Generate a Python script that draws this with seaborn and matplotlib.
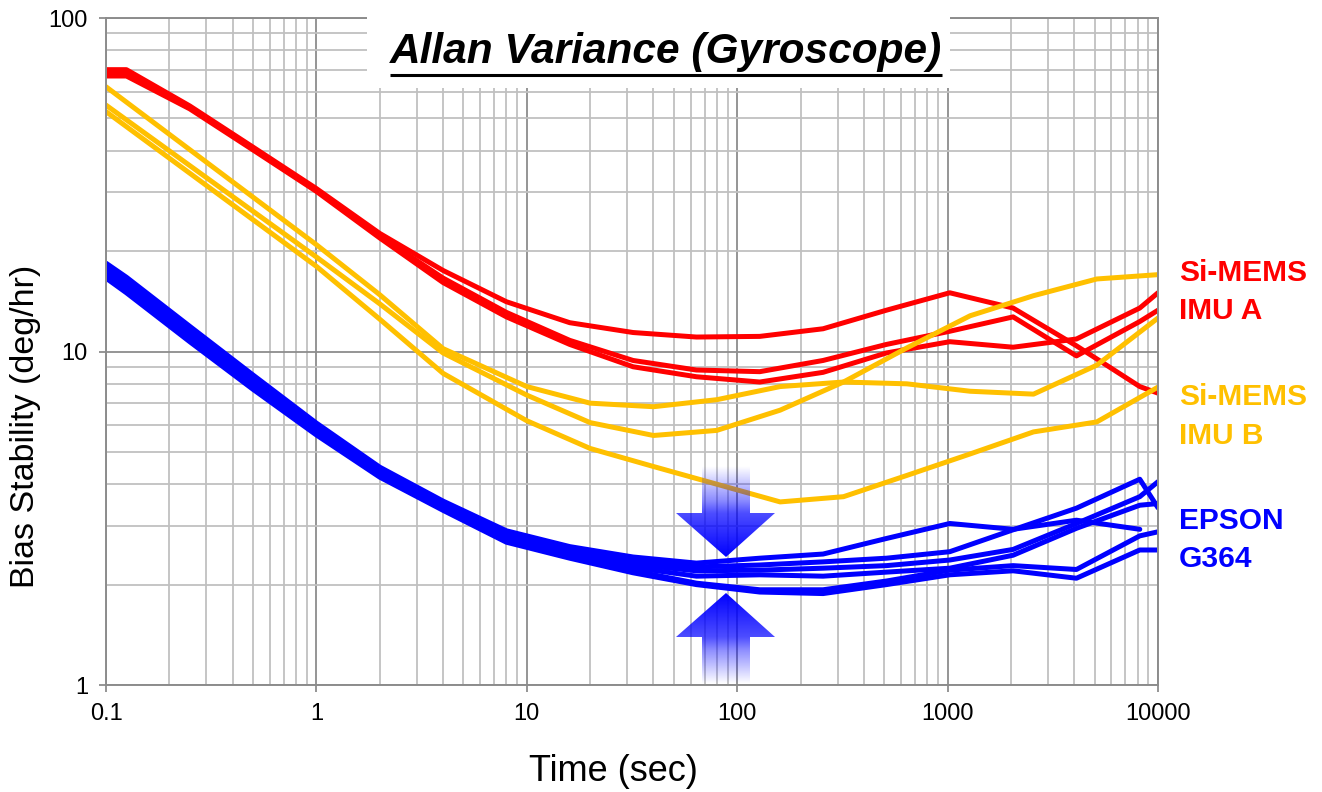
import numpy as np
import pandas as pd
import matplotlib
matplotlib.use("Agg")
import matplotlib.pyplot as plt
from matplotlib.patches import Rectangle, Polygon
from matplotlib.ticker import FixedLocator, FixedFormatter, LogLocator, NullFormatter
import seaborn as sns

# averaging times (sec)
tau = [0.1, 0.125, 0.25, 0.5, 1, 2, 4, 8, 16, 32, 64, 128, 256, 512, 1024, 2048, 4096, 8192, 10000]
tau_b = [0.1, 1, 2, 4, 10, 20, 40, 80, 160, 320, 640, 1280, 2560, 5120, 10000]

# Si-MEMS IMU A (red)
red_1 = [70.0, 70.0, 54.5, 41.0, 30.8, 22.6, 17.5, 14.1, 12.2, 11.4, 11.05, 11.1, 11.7, 13.3, 15.0, 13.5, 10.4, 7.85, 7.5]
red_2 = [68.4, 68.4, 54.0, 40.6, 30.5, 22.2, 16.6, 13.1, 10.8, 9.4, 8.8, 8.7, 9.4, 10.5, 11.5, 12.7, 9.7, 12.3, 13.3]
red_3 = [67.0, 67.0, 53.4, 40.2, 30.2, 21.9, 16.1, 12.7, 10.5, 9.0, 8.4, 8.1, 8.66, 9.9, 10.7, 10.3, 10.9, 13.5, 15.0]

# Si-MEMS IMU B (yellow)
yel_1 = [62.2, 20.9, 14.8, 10.2, 7.85, 7.0, 6.83, 7.17, 7.85, 8.1, 8.0, 7.6, 7.45, 9.1, 12.6]
yel_2 = [54.8, 19.2, 13.9, 9.9, 7.4, 6.12, 5.6, 5.8, 6.67, 8.1, 10.25, 12.8, 14.7, 16.5, 17.0]
yel_3 = [52.4, 18.0, 12.5, 8.6, 6.2, 5.12, 4.52, 4.0, 3.54, 3.67, 4.25, 4.93, 5.74, 6.15, 7.82]

# EPSON G364 (blue)
blu_1 = [18.4, 16.7, 11.9, 8.5, 6.1, 4.5, 3.56, 2.9, 2.6, 2.42, 2.32, 2.40, 2.47, 2.75, 3.05, 2.93, 3.12, 2.93]
blu_2 = [18.0, 16.3, 11.6, 8.3, 6.0, 4.45, 3.5, 2.85, 2.55, 2.36, 2.26, 2.29, 2.34, 2.40, 2.51, 2.92, 3.39, 4.14, 3.40]
blu_3 = [17.6, 15.9, 11.3, 8.1, 5.9, 4.38, 3.46, 2.8, 2.5, 2.3, 2.2, 2.21, 2.24, 2.28, 2.37, 2.55, 3.05, 3.67, 4.07]
blu_4 = [17.2, 15.6, 11.0, 7.9, 5.8, 4.3, 3.42, 2.76, 2.46, 2.25, 2.12, 2.14, 2.12, 2.18, 2.24, 2.45, 2.95, 3.46, 3.50]
blu_5 = [16.9, 15.3, 10.8, 7.8, 5.7, 4.25, 3.38, 2.72, 2.43, 2.2, 2.02, 1.93, 1.93, 2.05, 2.21, 2.28, 2.22, 2.80, 2.88]
blu_6 = [16.6, 15.0, 10.7, 7.7, 5.62, 4.2, 3.34, 2.68, 2.40, 2.17, 2.0, 1.90, 1.88, 2.0, 2.14, 2.20, 2.09, 2.54, 2.54]

x_ticks = [0.1, 1, 10, 100, 1000, 10000]
x_tick_labels = ["0.1", "1", "10", "100", "1000", "10000"]
y_ticks = [1, 10, 100]
y_tick_labels = ["1", "10", "100"]

RED, YEL, BLU = "#FF0000", "#FFC000", "#0000FF"

series = [
    (tau, blu_1, BLU), (tau, blu_2, BLU), (tau, blu_3, BLU),
    (tau, blu_4, BLU), (tau, blu_5, BLU), (tau, blu_6, BLU),
    (tau, red_1, RED), (tau, red_2, RED), (tau, red_3, RED),
    (tau_b, yel_1, YEL), (tau_b, yel_2, YEL), (tau_b, yel_3, YEL),
]

sns.set_style("white")
plt.rcParams["font.family"] = ["Liberation Sans", "DejaVu Sans"]
plt.rcParams["text.color"] = "black"
plt.rcParams["axes.labelcolor"] = "black"

W, H = 1322, 792
fig = plt.figure(figsize=(W / 100, H / 100), dpi=100)
ax = fig.add_axes([106 / W, 1 - 685 / H, 1052 / W, 667 / H])
ax.set_xscale("log")
ax.set_yscale("log")

for xs, ys, col in series:
    n = len(ys)
    sns.lineplot(x=xs[:n], y=ys, ax=ax, color=col, lw=3.6,
                 estimator=None, sort=False)

ax.set_xlim(0.1, 10000)
ax.set_ylim(1, 100)
ax.xaxis.set_major_locator(FixedLocator(x_ticks))
ax.xaxis.set_major_formatter(FixedFormatter(x_tick_labels))
ax.yaxis.set_major_locator(FixedLocator(y_ticks))
ax.yaxis.set_major_formatter(FixedFormatter(y_tick_labels))
for a in (ax.xaxis, ax.yaxis):
    a.set_minor_locator(LogLocator(base=10, subs=np.arange(2, 10), numticks=20))
    a.set_minor_formatter(NullFormatter())

ax.grid(which="major", color="#8c8c8c", lw=1.3)
ax.grid(which="minor", color="#c0c0c0", lw=1.3)
ax.set_axisbelow(True)
for s in ax.spines.values():
    s.set_color("#8c8c8c")
    s.set_linewidth(1.4)
ax.tick_params(which="major", length=5, width=1.3, color="#8c8c8c", labelcolor="black",
               labelsize=17, pad=8, direction="out", bottom=True, left=True)
ax.tick_params(which="minor", length=0)

ax.set_xlabel("Time (sec)", fontsize=26, color="black")
ax.xaxis.set_label_coords(0.482, -0.104)
ax.set_ylabel("Bias Stability (deg/hr)", fontsize=24.5, color="black")
ax.yaxis.set_label_coords(-0.062, 0.387)

# overlay in pixel coordinates for title box, arrows and side labels
ov = fig.add_axes([0, 0, 1, 1], zorder=5)
ov.set_xlim(0, W)
ov.set_ylim(H, 0)
ov.axis("off")

ov.add_patch(Rectangle((367, 0), 583, 88, fc="white", ec="none"))
title = ov.text(666, 52, "Allan Variance (Gyroscope)", ha="center", va="center",
                fontsize=30.5, fontweight="bold", fontstyle="italic", color="black")


def grad_arrow(pts, y_top, y_bot, alpha_y, alpha_v):
    poly = Polygon(pts, closed=True, fc="none", ec="none", transform=ov.transData)
    ov.add_patch(poly)
    ys = np.linspace(y_top, y_bot, 200)
    img = np.zeros((200, 1, 4))
    img[:, 0, 2] = 1.0
    img[:, 0, 3] = np.interp(ys, alpha_y, alpha_v)
    im = ov.imshow(img, extent=(670, 780, y_bot, y_top), origin="upper",
                   aspect="auto", interpolation="bilinear")
    im.set_clip_path(poly)


cx = 726
grad_arrow([(702, 466), (750, 466), (750, 513), (775, 513), (cx, 557), (676, 513), (702, 513)],
           466, 557, [466, 500, 513, 557], [0.0, 0.45, 0.7, 1.0])
grad_arrow([(cx, 593), (775, 637), (750, 637), (750, 684), (702, 684), (702, 637), (676, 637)],
           593, 684, [593, 637, 650, 684], [1.0, 0.7, 0.45, 0.0])
ov.set_xlim(0, W)
ov.set_ylim(H, 0)

labels = [("Si-MEMS", 273, RED), ("IMU A", 311, RED),
          ("Si-MEMS", 397, YEL), ("IMU B", 436, YEL),
          ("EPSON", 521, BLU), ("G364", 559, BLU)]
for txt, yy, col in labels:
    ov.text(1179, yy, txt, color=col, fontsize=21.5, fontweight="bold", va="center", ha="left")

# underline for the title
fig.canvas.draw()
bb = title.get_window_extent()
inv = ov.transData.inverted()
(x0, _), (x1, _) = inv.transform([(bb.x0, 0), (bb.x1, 0)])
ov.plot([x0, x1], [75, 75], color="black", lw=2.2, solid_capstyle="butt")
ov.set_xlim(0, W)
ov.set_ylim(H, 0)

fig.savefig("out.png", dpi=100)
